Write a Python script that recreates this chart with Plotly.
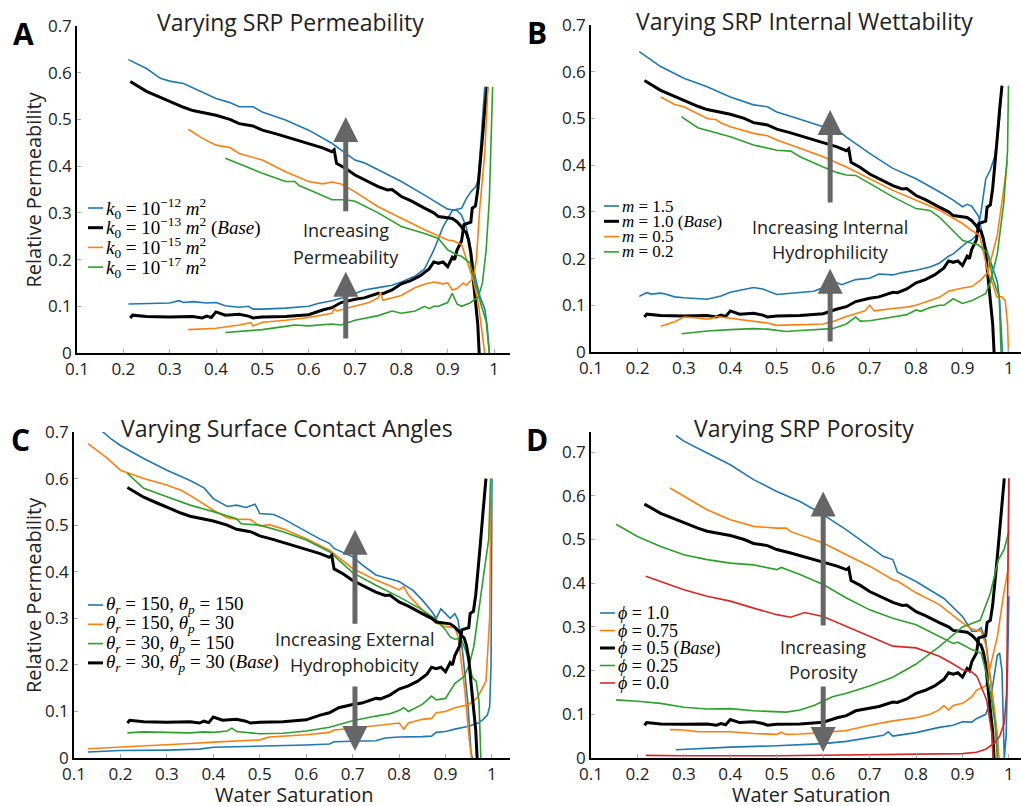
import plotly.graph_objects as go

W, H = 1021, 806
BLUE, ORANGE, GREEN, RED, BLACK = '#1f77b4', '#ff7f0e', '#2ca02c', '#d62728', 'black'

# ---- base case (black), shared by all four panels ----
base_n_sw = [0.215, 0.23, 0.25, 0.28, 0.30, 0.33, 0.35, 0.38, 0.40, 0.43, 0.45, 0.48, 0.50, 0.53, 0.55,
             0.58, 0.60, 0.63, 0.65, 0.655, 0.66, 0.68, 0.70, 0.73, 0.75, 0.77, 0.78, 0.80, 0.82, 0.85,
             0.87, 0.88, 0.90, 0.91, 0.92, 0.93, 0.935, 0.94, 0.945, 0.95, 0.955, 0.96, 0.965, 0.968]
base_n_kr = [0.581, 0.572, 0.560, 0.547, 0.538, 0.526, 0.519, 0.513, 0.509, 0.500, 0.491, 0.486, 0.477, 0.469, 0.463,
             0.455, 0.449, 0.439, 0.431, 0.435, 0.406, 0.395, 0.381, 0.366, 0.356, 0.349, 0.350, 0.335, 0.326, 0.310,
             0.300, 0.292, 0.290, 0.288, 0.281, 0.270, 0.262, 0.258, 0.242, 0.214, 0.160, 0.110, 0.060, 0.0]
base_w_sw = [0.215, 0.22, 0.25, 0.30, 0.35, 0.37, 0.38, 0.39, 0.40, 0.42, 0.45, 0.47, 0.48, 0.50, 0.55,
             0.60, 0.63, 0.65, 0.67, 0.70, 0.72, 0.75, 0.76, 0.78, 0.80, 0.82, 0.84, 0.86, 0.87, 0.88,
             0.89, 0.90, 0.91, 0.915, 0.92, 0.93, 0.935, 0.945, 0.95, 0.953, 0.96, 0.965, 0.97, 0.975, 0.98]
base_w_kr = [0.075, 0.081, 0.078, 0.077, 0.078, 0.075, 0.079, 0.076, 0.088, 0.081, 0.083, 0.079, 0.075, 0.077, 0.078,
             0.082, 0.092, 0.097, 0.108, 0.115, 0.118, 0.128, 0.127, 0.135, 0.148, 0.155, 0.165, 0.180, 0.195, 0.192,
             0.195, 0.185, 0.205, 0.200, 0.220, 0.240, 0.275, 0.278, 0.280, 0.310, 0.315, 0.350, 0.400, 0.460, 0.520]
# last point of the base water curve in panels A, B, C, D
base_w_end_sw = [0.985, 0.985, 0.987, 0.99]
base_w_end_kr = [0.57, 0.57, 0.60, 0.64]

# ---- A: permeability ----
a12_n_sw = [0.211, 0.25, 0.28, 0.30, 0.33, 0.35, 0.40, 0.43, 0.45, 0.48, 0.50, 0.55, 0.60, 0.65, 0.70,
            0.72, 0.75, 0.80, 0.85, 0.88, 0.90, 0.92, 0.93, 0.94, 0.95, 0.96, 0.97, 0.98, 0.985, 0.99]
a12_n_kr = [0.628, 0.609, 0.588, 0.582, 0.577, 0.568, 0.545, 0.536, 0.527, 0.527, 0.516, 0.499, 0.477, 0.449, 0.413,
            0.407, 0.392, 0.367, 0.338, 0.320, 0.308, 0.305, 0.295, 0.270, 0.220, 0.160, 0.120, 0.095, 0.060, 0.0]
a12_w_sw = [0.211, 0.25, 0.30, 0.32, 0.33, 0.35, 0.38, 0.40, 0.42, 0.45, 0.47, 0.48, 0.50, 0.55, 0.60,
            0.62, 0.65, 0.68, 0.70, 0.72, 0.75, 0.78, 0.80, 0.83, 0.85, 0.87, 0.89, 0.91, 0.93, 0.94,
            0.95, 0.96, 0.966, 0.973, 0.98]
a12_w_kr = [0.105, 0.106, 0.107, 0.112, 0.108, 0.110, 0.107, 0.108, 0.101, 0.098, 0.100, 0.094, 0.094, 0.096, 0.100,
            0.106, 0.112, 0.120, 0.128, 0.135, 0.140, 0.145, 0.152, 0.165, 0.180, 0.220, 0.270, 0.305, 0.310, 0.330,
            0.345, 0.355, 0.370, 0.460, 0.570]

a15_n_sw = [0.34, 0.37, 0.40, 0.43, 0.45, 0.50, 0.55, 0.60, 0.63, 0.65, 0.67, 0.70, 0.75, 0.80, 0.85,
            0.90, 0.912, 0.93, 0.941, 0.955, 0.966, 0.976, 0.98]
a15_n_kr = [0.479, 0.460, 0.445, 0.440, 0.427, 0.413, 0.388, 0.367, 0.362, 0.366, 0.362, 0.345, 0.313, 0.288, 0.264,
            0.242, 0.240, 0.232, 0.200, 0.157, 0.107, 0.036, 0.0]
a15_w_sw = [0.34, 0.40, 0.45, 0.475, 0.48, 0.50, 0.55, 0.60, 0.65, 0.655, 0.66, 0.70, 0.73, 0.75, 0.755,
            0.76, 0.80, 0.83, 0.85, 0.87, 0.89, 0.90, 0.91, 0.92, 0.934, 0.94, 0.955, 0.962, 0.969, 0.98, 0.987]
a15_w_kr = [0.050, 0.053, 0.060, 0.065, 0.058, 0.066, 0.070, 0.076, 0.085, 0.095, 0.090, 0.100, 0.108, 0.118, 0.130,
            0.113, 0.123, 0.140, 0.147, 0.152, 0.148, 0.150, 0.135, 0.138, 0.150, 0.145, 0.160, 0.200, 0.307, 0.428, 0.570]

a17_n_sw = [0.42, 0.45, 0.50, 0.55, 0.57, 0.58, 0.60, 0.65, 0.68, 0.70, 0.75, 0.80, 0.85, 0.88, 0.90,
            0.92, 0.93, 0.948, 0.959, 0.973, 0.983, 0.99]
a17_n_kr = [0.417, 0.405, 0.385, 0.367, 0.367, 0.358, 0.350, 0.328, 0.328, 0.325, 0.300, 0.271, 0.256, 0.245, 0.221,
            0.210, 0.207, 0.193, 0.150, 0.100, 0.068, 0.0]
a17_w_sw = [0.42, 0.50, 0.55, 0.57, 0.60, 0.65, 0.67, 0.70, 0.75, 0.78, 0.80, 0.83, 0.85, 0.86, 0.87,
            0.88, 0.90, 0.91, 0.92, 0.93, 0.948, 0.966, 0.975, 0.983, 0.99, 0.997]
a17_w_kr = [0.044, 0.050, 0.057, 0.060, 0.058, 0.062, 0.060, 0.070, 0.080, 0.090, 0.085, 0.090, 0.100, 0.095, 0.100,
            0.100, 0.108, 0.128, 0.105, 0.100, 0.107, 0.120, 0.150, 0.220, 0.330, 0.570]

# ---- B: internal wettability ----
b15_n_sw = [0.204, 0.25, 0.30, 0.35, 0.40, 0.45, 0.48, 0.50, 0.55, 0.60, 0.63, 0.64, 0.65, 0.70, 0.75,
            0.80, 0.85, 0.88, 0.90, 0.91, 0.92, 0.935, 0.945, 0.955, 0.965, 0.975, 0.98, 0.986]
b15_n_kr = [0.643, 0.611, 0.586, 0.568, 0.546, 0.529, 0.525, 0.514, 0.498, 0.482, 0.468, 0.468, 0.460, 0.425, 0.393,
            0.371, 0.343, 0.325, 0.311, 0.316, 0.312, 0.290, 0.240, 0.210, 0.175, 0.150, 0.110, 0.0]
b15_w_sw = [0.204, 0.21, 0.22, 0.23, 0.25, 0.26, 0.28, 0.30, 0.35, 0.38, 0.40, 0.45, 0.47, 0.50, 0.55,
            0.58, 0.60, 0.63, 0.64, 0.67, 0.70, 0.72, 0.75, 0.77, 0.80, 0.83, 0.85, 0.87, 0.88, 0.90,
            0.91, 0.92, 0.93, 0.94, 0.95, 0.96, 0.97, 0.98, 0.985]
b15_w_kr = [0.119, 0.122, 0.127, 0.124, 0.126, 0.124, 0.118, 0.116, 0.113, 0.120, 0.128, 0.138, 0.135, 0.123, 0.127,
            0.130, 0.138, 0.148, 0.144, 0.155, 0.158, 0.167, 0.165, 0.170, 0.175, 0.182, 0.190, 0.205, 0.210, 0.228,
            0.235, 0.240, 0.250, 0.300, 0.370, 0.390, 0.420, 0.500, 0.570]

b05_n_sw = [0.25, 0.28, 0.30, 0.33, 0.35, 0.37, 0.38, 0.40, 0.45, 0.48, 0.50, 0.55, 0.60, 0.65, 0.70,
            0.75, 0.80, 0.85, 0.90, 0.92, 0.937, 0.955, 0.966, 0.974, 0.985, 0.992, 0.997, 0.999]
b05_n_kr = [0.546, 0.530, 0.525, 0.510, 0.500, 0.497, 0.490, 0.482, 0.468, 0.463, 0.454, 0.436, 0.418, 0.396, 0.371,
            0.346, 0.325, 0.304, 0.275, 0.260, 0.250, 0.170, 0.143, 0.118, 0.118, 0.110, 0.060, 0.0]
b05_w_sw = [0.25, 0.28, 0.30, 0.33, 0.35, 0.36, 0.37, 0.40, 0.45, 0.48, 0.50, 0.55, 0.60, 0.62, 0.65,
            0.68, 0.69, 0.70, 0.71, 0.75, 0.78, 0.80, 0.83, 0.85, 0.87, 0.90, 0.92, 0.94, 0.954, 0.975,
            0.989, 0.997]
b05_w_kr = [0.055, 0.065, 0.075, 0.073, 0.070, 0.072, 0.076, 0.072, 0.065, 0.062, 0.057, 0.058, 0.060, 0.065, 0.076,
            0.085, 0.088, 0.100, 0.088, 0.093, 0.096, 0.100, 0.110, 0.117, 0.130, 0.137, 0.140, 0.155, 0.170, 0.250,
            0.350, 0.410]

b02_n_sw = [0.295, 0.30, 0.33, 0.35, 0.40, 0.45, 0.48, 0.50, 0.53, 0.55, 0.60, 0.63, 0.65, 0.67, 0.70,
            0.75, 0.80, 0.83, 0.85, 0.90, 0.92, 0.933, 0.954, 0.966, 0.979, 0.983]
b02_n_kr = [0.504, 0.500, 0.480, 0.475, 0.461, 0.443, 0.437, 0.432, 0.430, 0.418, 0.396, 0.384, 0.379, 0.378, 0.361,
            0.332, 0.307, 0.303, 0.289, 0.239, 0.233, 0.230, 0.212, 0.155, 0.119, 0.0]
b02_w_sw = [0.295, 0.35, 0.40, 0.45, 0.48, 0.50, 0.52, 0.55, 0.60, 0.62, 0.65, 0.67, 0.68, 0.70, 0.75,
            0.78, 0.80, 0.81, 0.83, 0.85, 0.86, 0.88, 0.90, 0.92, 0.95, 0.96, 0.975, 0.989, 0.997, 0.999]
b02_w_kr = [0.039, 0.045, 0.048, 0.050, 0.049, 0.047, 0.044, 0.046, 0.049, 0.050, 0.060, 0.075, 0.066, 0.067, 0.075,
            0.080, 0.090, 0.087, 0.095, 0.100, 0.100, 0.114, 0.104, 0.110, 0.125, 0.150, 0.210, 0.320, 0.430, 0.570]

# ---- C: surface contact angles ----
c1_n_sw = [0.16, 0.18, 0.20, 0.25, 0.30, 0.35, 0.38, 0.40, 0.43, 0.45, 0.47, 0.48, 0.49, 0.50, 0.53,
           0.55, 0.60, 0.63, 0.65, 0.66, 0.70, 0.72, 0.75, 0.78, 0.80, 0.83, 0.85, 0.87, 0.88, 0.89,
           0.90, 0.91, 0.92, 0.927, 0.937, 0.948, 0.955, 0.958]
c1_n_kr = [0.702, 0.685, 0.671, 0.643, 0.618, 0.596, 0.580, 0.557, 0.540, 0.543, 0.538, 0.542, 0.545, 0.525, 0.523,
           0.514, 0.486, 0.470, 0.461, 0.450, 0.432, 0.415, 0.393, 0.385, 0.379, 0.360, 0.339, 0.315, 0.300, 0.320,
           0.310, 0.300, 0.310, 0.296, 0.225, 0.118, 0.010, 0.0]
c1_w_sw = [0.13, 0.20, 0.30, 0.37, 0.40, 0.50, 0.60, 0.65, 0.66, 0.70, 0.75, 0.77, 0.80, 0.85, 0.87,
           0.88, 0.90, 0.92, 0.95, 0.97, 0.98, 0.99, 0.995, 0.998, 1.0]
c1_w_kr = [0.013, 0.016, 0.017, 0.019, 0.023, 0.025, 0.028, 0.030, 0.035, 0.036, 0.037, 0.043, 0.045, 0.046, 0.047,
           0.055, 0.057, 0.062, 0.068, 0.075, 0.082, 0.092, 0.110, 0.200, 0.600]

c2_n_sw = [0.13, 0.15, 0.17, 0.20, 0.25, 0.30, 0.33, 0.35, 0.40, 0.43, 0.45, 0.48, 0.50, 0.52, 0.55,
           0.60, 0.65, 0.70, 0.75, 0.78, 0.80, 0.81, 0.82, 0.85, 0.88, 0.90, 0.92, 0.927, 0.941, 0.951, 0.956]
c2_n_kr = [0.675, 0.660, 0.645, 0.618, 0.600, 0.586, 0.575, 0.564, 0.532, 0.516, 0.513, 0.512, 0.498, 0.501, 0.492,
           0.471, 0.446, 0.407, 0.382, 0.370, 0.361, 0.368, 0.350, 0.318, 0.290, 0.282, 0.280, 0.260, 0.150, 0.040, 0.0]
c2_w_sw = [0.13, 0.20, 0.25, 0.30, 0.35, 0.40, 0.45, 0.50, 0.52, 0.55, 0.60, 0.65, 0.66, 0.70, 0.75,
           0.80, 0.81, 0.82, 0.85, 0.87, 0.88, 0.90, 0.92, 0.95, 0.969, 0.987, 0.995, 0.998]
c2_w_kr = [0.020, 0.023, 0.026, 0.028, 0.031, 0.034, 0.036, 0.039, 0.045, 0.047, 0.050, 0.055, 0.060, 0.064, 0.070,
           0.075, 0.062, 0.075, 0.083, 0.085, 0.097, 0.100, 0.108, 0.115, 0.130, 0.165, 0.300, 0.600]

c3_n_sw = [0.215, 0.25, 0.30, 0.35, 0.40, 0.45, 0.46, 0.50, 0.55, 0.60, 0.65, 0.70, 0.75, 0.80, 0.85,
           0.88, 0.90, 0.91, 0.92, 0.933, 0.944, 0.958, 0.966, 0.972, 0.976]
c3_n_kr = [0.611, 0.579, 0.561, 0.543, 0.529, 0.514, 0.503, 0.500, 0.486, 0.468, 0.443, 0.398, 0.371, 0.346, 0.318,
           0.297, 0.275, 0.260, 0.255, 0.257, 0.229, 0.172, 0.165, 0.122, 0.0]
c3_w_sw = [0.215, 0.25, 0.30, 0.35, 0.38, 0.40, 0.43, 0.44, 0.45, 0.50, 0.55, 0.60, 0.65, 0.70, 0.75,
           0.78, 0.80, 0.81, 0.82, 0.85, 0.87, 0.88, 0.90, 0.92, 0.94, 0.951, 0.961, 0.972, 0.983, 0.993, 0.997]
c3_w_kr = [0.054, 0.056, 0.055, 0.054, 0.056, 0.055, 0.058, 0.064, 0.057, 0.052, 0.053, 0.058, 0.066, 0.080, 0.090,
           0.095, 0.102, 0.108, 0.100, 0.115, 0.133, 0.125, 0.128, 0.160, 0.175, 0.200, 0.240, 0.325, 0.400, 0.470, 0.600]

# ---- D: porosity ----
d1_n_sw = [0.283, 0.30, 0.35, 0.40, 0.45, 0.50, 0.55, 0.60, 0.65, 0.70, 0.73, 0.75, 0.76, 0.80, 0.85,
           0.86, 0.90, 0.92, 0.93, 0.94, 0.95, 0.96, 0.97, 0.975, 0.978]
d1_n_kr = [0.738, 0.725, 0.698, 0.671, 0.637, 0.610, 0.587, 0.557, 0.522, 0.484, 0.461, 0.454, 0.425, 0.404, 0.370,
           0.365, 0.324, 0.290, 0.290, 0.298, 0.270, 0.180, 0.100, 0.050, 0.0]
d1_w_sw = [0.283, 0.30, 0.40, 0.50, 0.60, 0.65, 0.70, 0.73, 0.74, 0.75, 0.80, 0.85, 0.88, 0.90, 0.92,
           0.93, 0.95, 0.96, 0.97, 0.975, 0.98, 0.985, 0.99, 0.994, 0.997, 1.0]
d1_w_kr = [0.019, 0.020, 0.025, 0.028, 0.033, 0.038, 0.046, 0.052, 0.060, 0.050, 0.058, 0.070, 0.075, 0.083, 0.082,
           0.090, 0.100, 0.130, 0.200, 0.235, 0.240, 0.200, 0.0, 0.050, 0.200, 0.370]

d2_n_sw = [0.27, 0.30, 0.35, 0.40, 0.45, 0.50, 0.52, 0.53, 0.55, 0.60, 0.65, 0.70, 0.75, 0.76, 0.80,
           0.85, 0.90, 0.92, 0.94, 0.95, 0.96, 0.97, 0.975, 0.978]
d2_n_kr = [0.618, 0.599, 0.568, 0.545, 0.530, 0.526, 0.526, 0.518, 0.511, 0.492, 0.465, 0.439, 0.408, 0.405, 0.378,
           0.351, 0.309, 0.295, 0.290, 0.260, 0.180, 0.100, 0.040, 0.0]
d2_w_sw = [0.27, 0.30, 0.33, 0.35, 0.40, 0.45, 0.50, 0.51, 0.52, 0.55, 0.60, 0.65, 0.70, 0.75, 0.80,
           0.83, 0.85, 0.86, 0.87, 0.88, 0.90, 0.92, 0.93, 0.94, 0.95, 0.975, 0.989, 0.998, 1.0]
d2_w_kr = [0.065, 0.064, 0.060, 0.060, 0.060, 0.056, 0.054, 0.059, 0.054, 0.055, 0.058, 0.063, 0.075, 0.085, 0.092,
           0.100, 0.110, 0.120, 0.110, 0.120, 0.125, 0.140, 0.155, 0.160, 0.165, 0.277, 0.378, 0.430, 0.640]

d3_n_sw = [0.154, 0.20, 0.25, 0.30, 0.35, 0.40, 0.45, 0.50, 0.51, 0.55, 0.60, 0.65, 0.70, 0.75, 0.80,
           0.85, 0.88, 0.89, 0.90, 0.92, 0.94, 0.95, 0.96, 0.97, 0.975]
d3_n_kr = [0.535, 0.507, 0.484, 0.465, 0.454, 0.446, 0.442, 0.431, 0.436, 0.420, 0.397, 0.366, 0.339, 0.320, 0.305,
           0.278, 0.262, 0.265, 0.259, 0.248, 0.240, 0.200, 0.150, 0.080, 0.0]
d3_w_sw = [0.154, 0.20, 0.25, 0.30, 0.35, 0.40, 0.45, 0.50, 0.52, 0.55, 0.58, 0.60, 0.62, 0.65, 0.70,
           0.75, 0.80, 0.85, 0.90, 0.92, 0.938, 0.96, 0.977, 0.99, 1.0]
d3_w_kr = [0.133, 0.130, 0.125, 0.116, 0.112, 0.113, 0.108, 0.107, 0.105, 0.110, 0.120, 0.130, 0.140, 0.148, 0.165,
           0.185, 0.215, 0.255, 0.300, 0.308, 0.315, 0.377, 0.453, 0.478, 0.520]

d5_n_sw = [0.218, 0.25, 0.30, 0.35, 0.40, 0.45, 0.50, 0.53, 0.55, 0.56, 0.60, 0.65, 0.70, 0.75, 0.80,
           0.85, 0.88, 0.90, 0.92, 0.931, 0.952, 0.963, 0.966]
d5_n_kr = [0.416, 0.404, 0.385, 0.370, 0.359, 0.343, 0.328, 0.322, 0.330, 0.333, 0.324, 0.301, 0.278, 0.256, 0.252,
           0.233, 0.215, 0.202, 0.197, 0.187, 0.133, 0.057, 0.0]
d5_w_sw = [0.218, 0.30, 0.50, 0.70, 0.80, 0.90, 0.93, 0.95, 0.97, 0.98, 0.99, 0.995, 1.0]
d5_w_kr = [0.006, 0.005, 0.005, 0.007, 0.008, 0.010, 0.013, 0.020, 0.035, 0.050, 0.080, 0.150, 0.640]

# legend labels
a_labels = ['<i>k</i><sub>0</sub> = 10<sup>\u221212</sup> <i>m</i><sup>2</sup>',
            '<i>k</i><sub>0</sub> = 10<sup>\u221213</sup> <i>m</i><sup>2</sup> (<i>Base</i>)',
            '<i>k</i><sub>0</sub> = 10<sup>\u221215</sup> <i>m</i><sup>2</sup>',
            '<i>k</i><sub>0</sub> = 10<sup>\u221217</sup> <i>m</i><sup>2</sup>']
b_labels = ['<i>m</i> = 1.5', '<i>m</i> = 1.0 (<i>Base</i>)', '<i>m</i> = 0.5', '<i>m</i> = 0.2']
c_labels = ['<i>\u03b8<sub>r</sub></i> = 150, <i>\u03b8<sub>p</sub></i> = 150',
            '<i>\u03b8<sub>r</sub></i> = 150, <i>\u03b8<sub>p</sub></i> = 30',
            '<i>\u03b8<sub>r</sub></i> = 30, <i>\u03b8<sub>p</sub></i> = 150',
            '<i>\u03b8<sub>r</sub></i> = 30, <i>\u03b8<sub>p</sub></i> = 30 (<i>Base</i>)']
d_labels = ['<i>\u03d5</i> = 1.0', '<i>\u03d5</i> = 0.75', '<i>\u03d5</i> = 0.5 (<i>Base</i>)',
            '<i>\u03d5</i> = 0.25', '<i>\u03d5</i> = 0.0']

BASE = 'base'
panels = [
    dict(letter='A', title='Varying SRP Permeability',
         dom_x=(77, 510), dom_y=(26, 353), xmax=1.0345, ymax=0.7,
         curves=[(a12_n_sw, a12_n_kr, a12_w_sw, a12_w_kr, BLUE), BASE,
                 (a15_n_sw, a15_n_kr, a15_w_sw, a15_w_kr, ORANGE),
                 (a17_n_sw, a17_n_kr, a17_w_sw, a17_w_kr, GREEN)],
         labels=a_labels, leg=(88, 208, 19.7, 19),
         arrow_x=0.68, arrows=[(0.30, 0.505), (0.028, 0.174)],
         text=[('Increasing', 0.263), ('Permeability', 0.206)], ylabel=True, xlabel=False),
    dict(letter='B', title='Varying SRP Internal Wettability',
         dom_x=(591, 1021), dom_y=(25, 352), xmax=1.026, ymax=0.7,
         curves=[(b15_n_sw, b15_n_kr, b15_w_sw, b15_w_kr, BLUE), BASE,
                 (b05_n_sw, b05_n_kr, b05_w_sw, b05_w_kr, ORANGE),
                 (b02_n_sw, b02_n_kr, b02_w_sw, b02_w_kr, GREEN)],
         labels=b_labels, leg=(604, 206, 15.3, 17),
         arrow_x=0.615, arrows=[(0.317, 0.518), (0.019, 0.178)],
         text=[('Increasing Internal', 0.268), ('Hydrophilicity', 0.214)], ylabel=False, xlabel=False),
    dict(letter='C', title='Varying Surface Contact Angles',
         dom_x=(74, 510), dom_y=(432, 758), xmax=1.0388, ymax=0.7,
         curves=[(c1_n_sw, c1_n_kr, c1_w_sw, c1_w_kr, BLUE),
                 (c2_n_sw, c2_n_kr, c2_w_sw, c2_w_kr, ORANGE),
                 (c3_n_sw, c3_n_kr, c3_w_sw, c3_w_kr, GREEN), BASE],
         labels=c_labels, leg=(88, 605, 19.3, 19),
         arrow_x=0.705, arrows=[(0.285, 0.49), (0.157, 0.015)],
         text=[('Increasing External', 0.255), ('Hydrophobicity', 0.200)], ylabel=True, xlabel=True),
    dict(letter='D', title='Varying SRP Porosity',
         dom_x=(591, 1021), dom_y=(432, 758), xmax=1.026, ymax=0.746,
         curves=[(d1_n_sw, d1_n_kr, d1_w_sw, d1_w_kr, BLUE),
                 (d2_n_sw, d2_n_kr, d2_w_sw, d2_w_kr, ORANGE), BASE,
                 (d3_n_sw, d3_n_kr, d3_w_sw, d3_w_kr, GREEN),
                 (d5_n_sw, d5_n_kr, d5_w_sw, d5_w_kr, RED)],
         labels=d_labels, leg=(600, 613, 17.5, 18),
         arrow_x=0.6, arrows=[(0.30, 0.61), (0.167, 0.014)],
         text=[('Increasing', 0.254), ('Porosity', 0.197)], ylabel=False, xlabel=True),
]

fig = go.Figure()
layout = dict(width=W, height=H, margin=dict(l=0, r=0, t=0, b=0),
              plot_bgcolor='white', paper_bgcolor='white', showlegend=False,
              font=dict(family='Open Sans', color='#222'))
annotations, shapes = [], []
TXT = dict(family='Open Sans', color='#222')

for i, p in enumerate(panels):
    n = '' if i == 0 else str(i + 1)
    xa, ya = 'x' + n, 'y' + n
    common = dict(showline=True, linecolor='black', linewidth=1.5, showgrid=False, zeroline=False,
                  ticks='inside', ticklen=4, tickcolor='#aaa', automargin=False,
                  tickfont=dict(size=17, **TXT))
    layout['xaxis' + n] = dict(domain=[p['dom_x'][0] / W, p['dom_x'][1] / W], anchor=ya,
                               range=[0.1, p['xmax']], dtick=0.1, tick0=0.1, **common)
    layout['yaxis' + n] = dict(domain=[1 - p['dom_y'][1] / H, 1 - p['dom_y'][0] / H], anchor=xa,
                               range=[0, p['ymax']], dtick=0.1, tick0=0, **common)

    colors, widths = [], []
    for c in p['curves']:
        if c == BASE:
            segs = [(base_n_sw, base_n_kr),
                    (base_w_sw + [base_w_end_sw[i]], base_w_kr + [base_w_end_kr[i]])]
            color, width = BLACK, 3
        else:
            segs = [(c[0], c[1]), (c[2], c[3])]
            color, width = c[4], 1.6
        colors.append(color)
        widths.append(width)
        for sw, kr in segs:
            fig.add_trace(go.Scatter(x=sw, y=kr, mode='lines', xaxis=xa, yaxis=ya,
                                     line=dict(color=color, width=width), hoverinfo='skip'))

    # hand-made legend (short line samples)
    lx, ly, dy, fs = p['leg']
    for k, (lab, col, w) in enumerate(zip(p['labels'], colors, widths)):
        yp = 1 - (ly + k * dy) / H
        shapes.append(dict(type='line', xref='paper', yref='paper', x0=lx / W, x1=(lx + 15) / W,
                           y0=yp, y1=yp, line=dict(color=col, width=w)))
        annotations.append(dict(x=(lx + 16) / W, y=yp, xref='paper', yref='paper', text=lab,
                                showarrow=False, xanchor='left', yanchor='middle',
                                font=dict(family='Liberation Serif', size=fs, color='black')))

    # arrows and text
    for tail, tip in p['arrows']:
        annotations.append(dict(x=p['arrow_x'], y=tip, ax=p['arrow_x'], ay=tail,
                                xref=xa, yref=ya, axref=xa, ayref=ya, text='',
                                showarrow=True, arrowhead=2, arrowsize=1.0, arrowwidth=5,
                                arrowcolor='#666'))
    for t, yv in p['text']:
        annotations.append(dict(x=p['arrow_x'], y=yv, xref=xa, yref=ya, text=t, showarrow=False,
                                xanchor='center', yanchor='middle', font=dict(size=18, **TXT)))

    # title and panel letter
    x0, x1 = p['dom_x']
    y0 = p['dom_y'][0]
    annotations.append(dict(x=(x0 + 213) / W, y=1 - (y0 - 4) / H, xref='paper', yref='paper',
                            text=p['title'], showarrow=False, xanchor='center', yanchor='middle',
                            font=dict(size=23, **TXT)))
    annotations.append(dict(x=(x0 - 54) / W, y=1 - (y0 + 7) / H, xref='paper', yref='paper',
                            text='<b>%s</b>' % p['letter'], showarrow=False, xanchor='center',
                            yanchor='middle', font=dict(family='Open Sans', size=30, color='black')))
    if p['ylabel']:
        annotations.append(dict(x=33 / W, y=1 - (p['dom_y'][0] + p['dom_y'][1]) / 2 / H,
                                xref='paper', yref='paper', text='Relative Permeability',
                                textangle=-90, showarrow=False, xanchor='center', yanchor='middle',
                                font=dict(size=20, **TXT)))
    if p['xlabel']:
        annotations.append(dict(x=(x0 + 220) / W, y=1 - 794 / H, xref='paper', yref='paper',
                                text='Water Saturation', showarrow=False, xanchor='center',
                                yanchor='middle', font=dict(size=20, **TXT)))

layout['annotations'] = annotations
layout['shapes'] = shapes
fig.update_layout(**layout)
# the page's default 8px body margin would push the figure off the window
fig.write_html("out.html", config={'displayModeBar': False},
               post_script="document.body.style.margin='0';")
